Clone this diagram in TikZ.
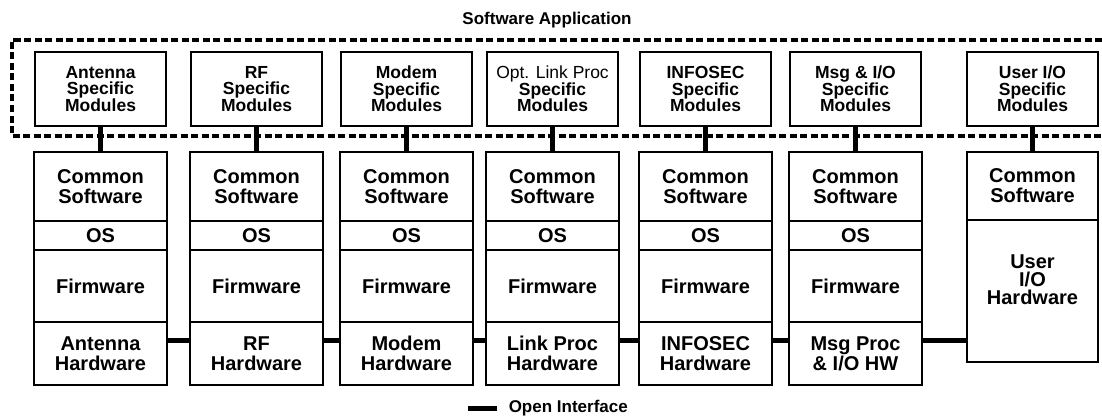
\documentclass[tikz,border=0pt]{standalone}
\usepackage{fontspec}
\setmainfont{Liberation Sans}
\usetikzlibrary{positioning}

\begin{document}
\begin{tikzpicture}[x=1pt, y=-1pt, line width=1.5pt,
  layer/.style={draw, rectangle, minimum width=133pt, inner sep=0pt, outer sep=0pt, align=center,
    font=\fontsize{20}{20}\selectfont\bfseries},
  modbox/.style={draw, rectangle, minimum width=131pt, minimum height=74pt, inner sep=0pt,
    align=center, font=\fontsize{17.5}{16.5}\selectfont\bfseries},
  iface/.style={line width=5pt},
  swapp/.style={line width=4.5pt, dash pattern=on 7pt off 3.5pt}]

\useasboundingbox (0,0) rectangle (1102,417);

% ---------- software application boundary (open to the right) ----------
\draw[swapp] (1102,40) -- (12,40) -- (12,136) -- (1102,136);
\node[font=\fontsize{17}{17}\selectfont\bfseries] (title) at (547,20) {Software Application};

% ---------- radio stacks ----------
\foreach \i/\x/\mod/\hw in {
    1/100.5/{Antenna\\Specific\\Modules}/{Antenna\\Hardware},
    2/256.5/{RF\\Specific\\Modules}/{RF\\Hardware},
    3/406.5/{Modem\\Specific\\Modules}/{Modem\\Hardware},
    4/552.5/{{\mdseries Opt. Link Proc}\\Specific\\Modules}/{Link Proc\\Hardware},
    5/705.5/{INFOSEC\\Specific\\Modules}/{INFOSEC\\Hardware},
    6/855.5/{Msg \& I/O\\Specific\\Modules}/{Msg Proc\\\& I/O HW}}{
  \node[modbox] (mod\i) at (\x,89) {\mod};
  \node[layer, minimum height=69pt, anchor=north] (cs\i) at (\x,152) {Common\\Software};
  \node[layer, minimum height=29pt, below=0pt of cs\i] (os\i) {OS};
  \node[layer, minimum height=72pt, below=0pt of os\i] (fw\i) {Firmware};
  \node[layer, minimum height=63pt, below=0pt of fw\i] (hw\i) {\hw};
  \draw[iface] (mod\i) -- (cs\i);
}

% ---------- user I/O stack ----------
\node[modbox] (mod7) at (1032.5,89) {User I/O\\Specific\\Modules};
\node[layer, minimum width=131pt, minimum height=68pt, anchor=north] (cs7) at (1032.5,152) {Common\\Software};
\node[layer, minimum width=131pt, minimum height=142pt, below=0pt of cs7] (hw7) {};
\node[align=center, font=\fontsize{20}{18}\selectfont\bfseries] (hw7txt) at ([yshift=11pt]hw7.center) {User\\I/O\\Hardware};
\draw[iface] (mod7) -- (cs7);

% ---------- open interfaces between hardware ----------
\foreach \a/\b in {1/2,2/3,3/4,4/5,5/6}
  \draw[iface] ([yshift=13.5pt]hw\a.east) -- ([yshift=13.5pt]hw\b.west);
\coordinate (oi6) at ([yshift=13.5pt]hw6.east);
\draw[iface] (oi6) -- (oi6 -| hw7.west);

% ---------- legend ----------
\node[anchor=west, inner sep=0pt, font=\fontsize{17}{17}\selectfont\bfseries] (legtxt) at (508,408) {Open Interface};
\draw[iface] ([xshift=-40pt]legtxt.west) -- ([xshift=-11pt]legtxt.west);

\end{tikzpicture}
\end{document}
